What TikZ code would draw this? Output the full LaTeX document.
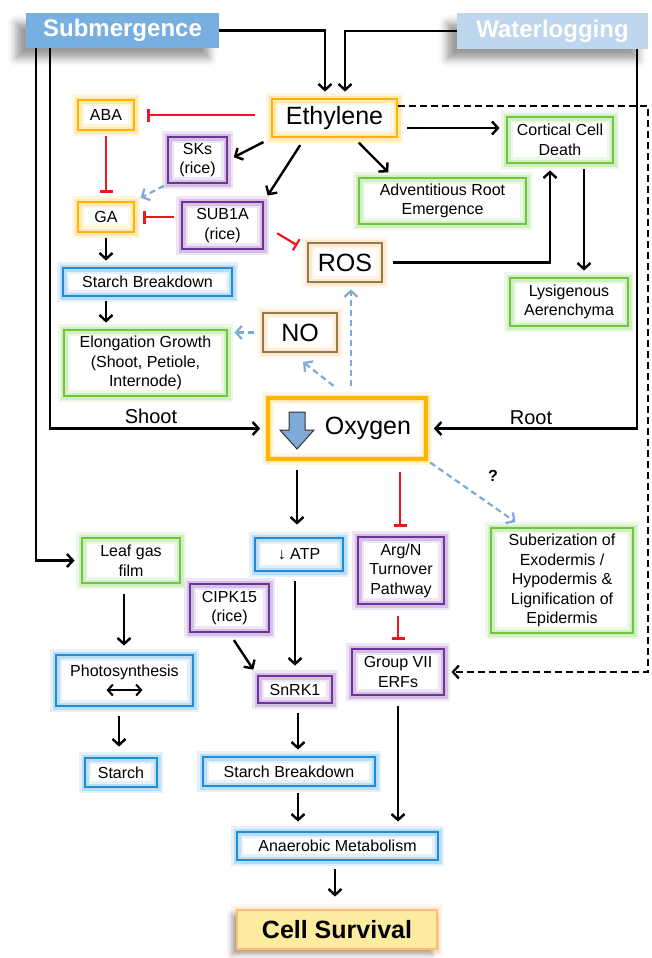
\documentclass[tikz,border=0pt]{standalone}
\usepackage{fontspec}
\setmainfont{Liberation Sans}
\usepackage{xcolor}
\usepackage{tikz}
\usetikzlibrary{arrows.meta,shadows.blur}

\definecolor{ethorange}{RGB}{255,180,0}
\definecolor{purp}{RGB}{112,48,160}
\definecolor{grn}{RGB}{110,200,60}
\definecolor{blu}{RGB}{30,140,220}
\definecolor{olive}{RGB}{140,125,75}
\definecolor{glowor}{RGB}{255,180,100}
\definecolor{inred}{RGB}{240,20,30}
\definecolor{dashblue}{RGB}{125,170,215}
\definecolor{subfill}{RGB}{120,175,225}
\definecolor{waterfill}{RGB}{190,214,238}
\definecolor{survfill}{RGB}{253,235,160}
\definecolor{survborder}{RGB}{250,190,120}
\definecolor{iconblue}{RGB}{125,170,215}

\begin{document}
\begin{tikzpicture}[
    x=1pt, y=-1pt,
    font=\fontsize{16}{19.5}\selectfont,
    box/.style={rectangle, line width=2.8pt, text centered, align=center, inner sep=3pt},
    glow/.style={preaction={draw=#1!12, line width=12pt}, preaction={draw=#1!30, line width=7pt}},
    orange_box/.style={box, draw=ethorange, glow=ethorange},
    purple_box/.style={box, draw=purp, glow=purp},
    green_box/.style={box, draw=grn, glow=grn},
    blue_box/.style={box, draw=blu, glow=blu},
    olive_box/.style={box, draw=olive, glow=glowor, font=\fontsize{25}{30}\selectfont},
    stress/.style={rectangle, text=white, font=\bfseries\fontsize{24}{28}\selectfont, blur shadow={shadow xshift=-10pt, shadow yshift=-10pt, shadow blur radius=8pt, shadow opacity=40}},
    arr/.style={line width=2.4pt, -{Straight Barb[length=6pt, width=13pt]}, shorten >=6pt},
    inhibit/.style={draw=inred, line width=2.2pt, -{Bar[width=13pt]}, shorten >=8pt},
    maybe/.style={draw=dashblue, line width=2.2pt, dash pattern=on 6pt off 4pt, -{Straight Barb[length=6pt, width=13pt]}, shorten >=6pt},
    link/.style={line width=2.2pt, dash pattern=on 7pt off 4pt, -{Straight Barb[length=6pt, width=13pt]}, shorten >=6pt}
]
\useasboundingbox (0, 0) rectangle (652, 958);

\node[stress, fill=subfill, minimum width=193pt, minimum height=35pt] (submergence_box) at (122.5, 30.5) {Submergence};
\node[stress, fill=waterfill, minimum width=191pt, minimum height=36pt] (waterlogging_box) at (552.5, 31) {Waterlogging};

\node[orange_box, font=\fontsize{25}{30}\selectfont, minimum width=125pt, minimum height=38pt] (ethylene_box) at (334.5, 118) {Ethylene};
\node[orange_box, minimum width=56pt, minimum height=30pt] (aba_box) at (106, 115) {ABA};
\node[purple_box, minimum width=59pt, minimum height=46pt] (sks_box) at (197.5, 160) {SKs\\(rice)};
\node[orange_box, minimum width=56pt, minimum height=30pt] (ga_box) at (106, 217) {GA};
\node[purple_box, minimum width=81pt, minimum height=47pt] (sub1a_box) at (222.5, 225.5) {SUB1A\\(rice)};
\node[green_box, minimum width=106pt, minimum height=46pt] (cortical_box) at (560, 140) {Cortical Cell\\Death};
\node[green_box, minimum width=167pt, minimum height=46pt] (adventitious_box) at (442.5, 201) {Adventitious Root\\Emergence};
\node[olive_box, minimum width=74pt, minimum height=39pt] (ros_box) at (345, 262.5) {ROS};
\node[olive_box, minimum width=74pt, minimum height=39pt] (no_box) at (300, 332.5) {NO};
\node[blue_box, minimum width=169pt, minimum height=28pt] (starch_top_box) at (147.5, 282) {Starch Breakdown};
\node[green_box, minimum width=163pt, minimum height=66pt] (elongation_box) at (145.5, 363) {Elongation Growth\\(Shoot, Petiole,\\Internode)};
\node[green_box, minimum width=118pt, minimum height=48pt] (lysigenous_box) at (569, 302) {Lysigenous\\Aerenchyma};

\node[orange_box, line width=3.6pt, font=\fontsize{25}{30}\selectfont, text width=128pt, align=right, inner xsep=15pt, minimum height=61pt] (oxygen_box) at (347, 428.5) {Oxygen};
\draw[fill=iconblue, draw=black!80, line width=1pt] (289, 412) -- (305, 412) -- (305, 430) -- (314, 430) -- (297, 449) -- (280, 430) -- (289, 430) -- cycle;
\node[font=\fontsize{20}{24}\selectfont] (shoot_label) at (151, 416) {Shoot};
\node[font=\fontsize{20}{24}\selectfont] (root_label) at (531, 418) {Root};
\node[font=\bfseries\fontsize{16}{19.5}\selectfont] (question_label) at (493, 476) {?};

\node[green_box, minimum width=98pt, minimum height=45pt] (leaf_box) at (131, 560.5) {Leaf gas\\film};
\node[blue_box, minimum width=88pt, minimum height=33pt] (atp_box) at (299, 554.5) {↓ ATP};
\node[purple_box, minimum width=79pt, minimum height=48pt] (cipk_box) at (229.5, 608) {CIPK15\\(rice)};
\node[blue_box, minimum width=137pt, minimum height=51pt] (photo_box) at (124.5, 680.5) {Photosynthesis\\[1pt]\tikz\draw[line width=2pt, {Straight Barb[length=5pt, width=11pt]}-{Straight Barb[length=5pt, width=11pt]}] (0pt, 0pt) -- (36pt, 0pt);};
\node[blue_box, minimum width=72pt, minimum height=29pt] (starch_box) at (121, 772.5) {Starch};
\node[purple_box, minimum width=74pt, minimum height=27pt] (snrk_box) at (295, 689.5) {SnRK1};
\node[purple_box, minimum width=86pt, minimum height=67pt] (argn_box) at (401, 570.5) {Arg/N\\Turnover\\Pathway};
\node[green_box, minimum width=142pt, minimum height=105pt] (suber_box) at (562, 580.5) {Suberization of\\Exodermis /\\Hypodermis \&\\Lignification of\\Epidermis};
\node[purple_box, minimum width=92pt, minimum height=46pt] (erf_box) at (398, 672) {Group VII\\ERFs};
\node[blue_box, minimum width=172pt, minimum height=29pt] (starch_bottom_box) at (289, 771.5) {Starch Breakdown};
\node[blue_box, minimum width=201pt, minimum height=28pt] (anaerobic_box) at (337.5, 846) {Anaerobic Metabolism};
\node[box, draw=survborder, glow=survborder, fill=survfill, font=\bfseries\fontsize{25}{30}\selectfont, minimum width=200pt, minimum height=39pt, blur shadow={shadow xshift=-5pt, shadow yshift=-5pt, shadow blur radius=6pt, shadow opacity=35}] (survival_box) at (337, 929.5) {Cell Survival};

\draw[arr] (submergence_box.east) -| ([xshift=-9.5pt]ethylene_box.north);
\draw[arr] (waterlogging_box.west) -| ([xshift=10.5pt]ethylene_box.north);
\draw[arr] ([xshift=-72.5pt]submergence_box.south) |- (oxygen_box.west);
\draw[arr] ([xshift=-86.5pt]submergence_box.south) |- (leaf_box.west);
\draw[arr] ([xshift=84.5pt]waterlogging_box.south) |- (oxygen_box.east);
\coordinate (dash_corner) at (648, 106);
\draw[link] ([yshift=12pt]ethylene_box.east) -- (dash_corner) |- (erf_box.east);

\draw[arr, shorten <=9pt] ([yshift=-10pt]ethylene_box.east) -- ([yshift=12pt]cortical_box.west);
\draw[inhibit, shorten <=16pt, shorten >=12pt] (aba_box.east -| ethylene_box.west) -- (aba_box.east);
\draw[arr, shorten <=8pt] (ethylene_box.south west) -- (sks_box.east);
\draw[arr, shorten <=8pt] ([xshift=-30pt]ethylene_box.south) -- (sub1a_box.north east);
\draw[arr, shorten <=6pt] ([xshift=20pt]ethylene_box.south) -- ([xshift=-50pt]adventitious_box.north);
\draw[inhibit, shorten <=5pt] (aba_box.south) -- (ga_box.north);
\draw[maybe, shorten <=3pt] (sks_box.south west) -- (ga_box.north east);
\draw[inhibit, shorten <=7pt] (sub1a_box.west |- ga_box.east) -- (ga_box.east);
\draw[inhibit, shorten <=15pt, shorten >=11pt] (sub1a_box.east) -- ([yshift=11.5pt]ros_box.west);
\draw[arr, shorten <=5pt] (ga_box.south) -- (ga_box.south |- starch_top_box.north);
\draw[arr, shorten <=4pt] (starch_top_box.south -| ga_box.south) -- (elongation_box.north -| ga_box.south);
\draw[arr, shorten <=10pt] (ros_box.east) -| ([xshift=-10pt]cortical_box.south);
\draw[arr, shorten <=5pt] ([xshift=24pt]cortical_box.south) -- ([xshift=15pt]lysigenous_box.north);
\draw[maybe, shorten <=8pt] (no_box.west) -- (no_box.west -| elongation_box.east);
\draw[maybe, shorten <=17pt, shorten >=14pt] (oxygen_box.north) -- ([xshift=-8pt]no_box.south);
\draw[maybe, shorten <=10pt] ([xshift=4pt]oxygen_box.north) -- ([xshift=6pt]ros_box.south);

\draw[arr, shorten <=9pt, shorten >=12pt] ([xshift=-50pt]oxygen_box.south) -- ([xshift=-2pt]atp_box.north);
\draw[inhibit, shorten <=11pt, shorten >=9pt] ([xshift=53pt]oxygen_box.south) -- ([xshift=-1pt]argn_box.north);
\draw[maybe, shorten <=3pt, shorten >=8pt] (oxygen_box.south east) -- ([xshift=-40pt]suber_box.north);
\draw[inhibit, shorten <=11pt] ([xshift=-3pt]argn_box.south) -- (erf_box.north);
\draw[arr, shorten <=10pt, shorten >=9pt] (erf_box.south) -- ([xshift=60.5pt]anaerobic_box.north);
\draw[arr, shorten <=9pt, shorten >=9pt] ([xshift=-4pt]atp_box.south) -- (snrk_box.north);
\draw[arr, shorten <=8pt] (cipk_box.south) -- (snrk_box.north west);
\draw[arr, shorten <=10pt, shorten >=8pt] ([xshift=-7pt]leaf_box.south) -- ([xshift=-0.5pt]photo_box.north);
\draw[arr, shorten <=9pt, shorten >=10pt] ([xshift=-5.5pt]photo_box.south) -- ([xshift=-2pt]starch_box.north);
\draw[arr, shorten <=9pt] ([xshift=3pt]snrk_box.south) -- ([xshift=9pt]starch_bottom_box.north);
\draw[arr, shorten <=6pt, shorten >=9pt] ([xshift=9pt]starch_bottom_box.south) -- ([xshift=-39.5pt]anaerobic_box.north);
\draw[arr, shorten <=8pt, shorten >=12pt] ([xshift=-2.5pt]anaerobic_box.south) -- ([xshift=-2pt]survival_box.north);

\end{tikzpicture}
\end{document}
